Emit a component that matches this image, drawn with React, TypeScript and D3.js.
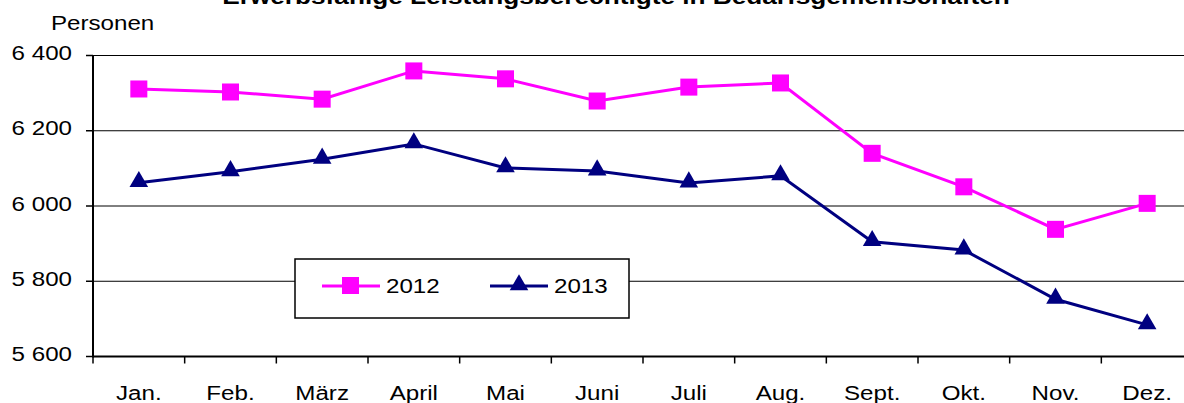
import React from "react";
import * as d3 from "d3";

const months = ["Jan.", "Feb.", "März", "April", "Mai", "Juni", "Juli", "Aug.", "Sept.", "Okt.", "Nov.", "Dez."];
const values2012 = [6311, 6303, 6284, 6359, 6338, 6279, 6316, 6327, 6140, 6051, 5938, 6007];
const values2013 = [6062, 6091, 6124, 6165, 6101, 6093, 6061, 6080, 5905, 5883, 5752, 5684];
const yTicks = [5600, 5800, 6000, 6200, 6400];
const title = "Erwerbsfähige Leistungsberechtigte in Bedarfsgemeinschaften";

const W = 1184, H = 403;
const left = 93, right = 1193, top = 55.5, bottom = 356.5;
const font = "'Liberation Sans', Arial, sans-serif";
const magenta = "#FF00FF", navy = "#000080";
const SX = 1.15;
const FS = 21;

function T({ x, y, anchor = "start", size = FS, weight = "normal", children }: any) {
  return (
    <text transform={`translate(${x},${y}) scale(${SX},1)`} textAnchor={anchor} fontSize={size} fontWeight={weight}>
      {children}
    </text>
  );
}

export default function App() {
  const x = d3.scaleBand().domain(months).range([left, right]);
  const y = d3.scaleLinear().domain([5600, 6400]).range([bottom, top]);
  const cx = (m: string) => (x(m) as number) + x.bandwidth() / 2;
  const line = d3.line<number>().x((_, i) => cx(months[i])).y(d => y(d));
  const tri = d3.symbol().type(d3.symbolTriangle).size(150);
  const fmt = (v: number) => d3.format(",")(v).replace(",", " ");
  const bounds = months.map((_, i) => left + i * x.step()).concat([right]);

  return (
    <svg width={W} height={H} style={{ position: "absolute", left: 0, top: 0, background: "#fff" }} fontFamily={font}>
      <T x={616} y={3.5} anchor="middle" size={22.8} weight="bold">{title}</T>
      <T x={51} y={29.5}>Personen</T>
      {yTicks.map(t => (
        <g key={t}>
          {t !== 5600 && <line x1={left} x2={W} y1={y(t)} y2={y(t)} stroke="#000" strokeWidth={1} />}
          <line x1={86} x2={left} y1={y(t)} y2={y(t)} stroke="#000" strokeWidth={1.5} />
          <T x={72} y={y(t) + 4.5} anchor="end">{fmt(t)}</T>
        </g>
      ))}
      <line x1={left} x2={left} y1={top} y2={bottom + 1} stroke="#000" strokeWidth={2} />
      <line x1={left} x2={W} y1={bottom} y2={bottom} stroke="#000" strokeWidth={2} />
      {bounds.map((b, i) => (
        <line key={i} x1={b} x2={b} y1={bottom} y2={bottom + 7} stroke="#000" strokeWidth={1.5} />
      ))}
      {months.map(m => (
        <T key={m} x={cx(m)} y={399.5} anchor="middle">{m}</T>
      ))}
      <path d={line(values2012) || ""} fill="none" stroke={magenta} strokeWidth={3} />
      {values2012.map((v, i) => (
        <rect key={i} x={cx(months[i]) - 8.5} y={y(v) - 8.5} width={17} height={17} fill={magenta} />
      ))}
      <path d={line(values2013) || ""} fill="none" stroke={navy} strokeWidth={3} />
      {values2013.map((v, i) => (
        <path key={i} d={tri() || ""} transform={`translate(${cx(months[i])},${y(v) - 1})`} fill={navy} />
      ))}
      <g>
        <rect x={295} y={259} width={334} height={59} fill="#fff" stroke="#000" strokeWidth={1.5} />
        <line x1={322} x2={380} y1={286} y2={286} stroke={magenta} strokeWidth={3} />
        <rect x={342} y={277} width={17} height={17} fill={magenta} />
        <T x={386} y={293}>2012</T>
        <line x1={490} x2={548} y1={286} y2={286} stroke={navy} strokeWidth={3} />
        <path d={tri() || ""} transform="translate(519,285)" fill={navy} />
        <T x={554} y={293}>2013</T>
      </g>
    </svg>
  );
}
